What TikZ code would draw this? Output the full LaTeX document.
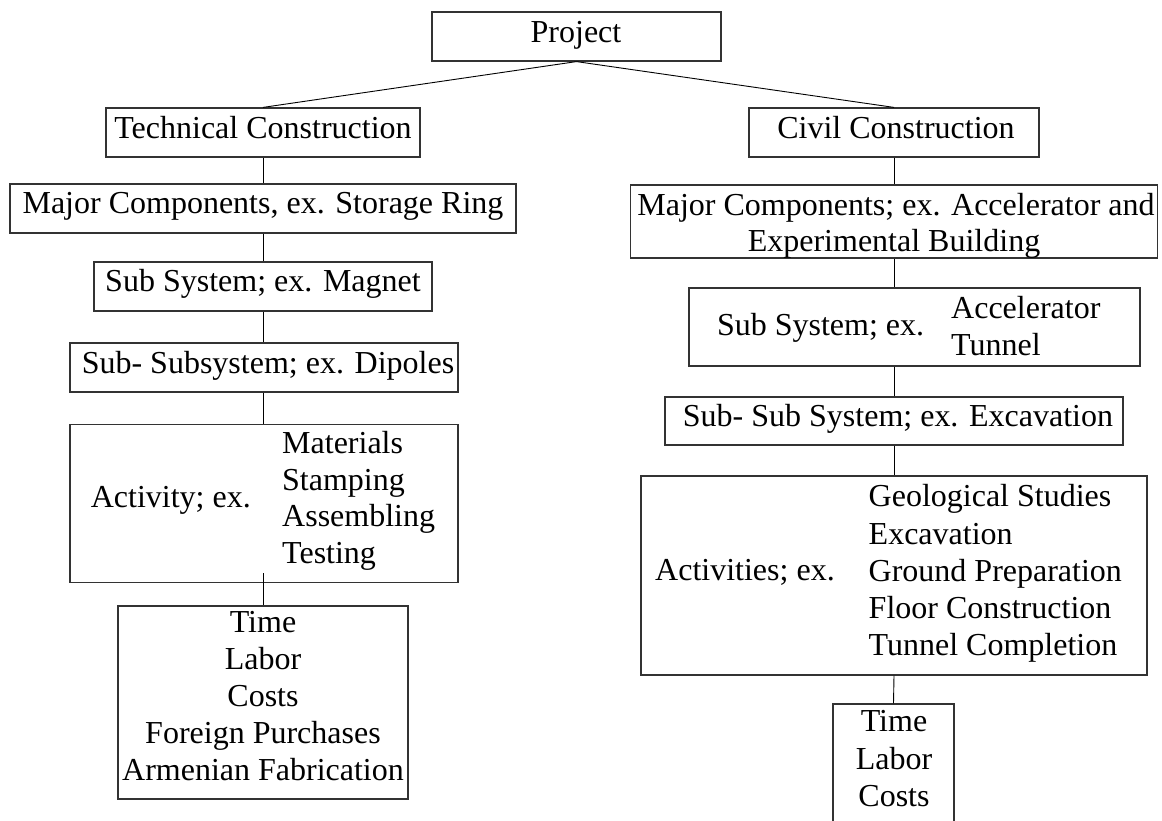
\documentclass[tikz,border=0pt]{standalone}
\usepackage{fontspec}
\setmainfont{Liberation Serif}
\begin{document}
\begin{tikzpicture}[x=1pt,y=-1pt,
  box/.style={draw=black!80,line width=1.2pt,inner sep=0pt,minimum width=#1},
  txt/.style={inner sep=0pt,font=\fontsize{32}{36.7}\selectfont},
  conn/.style={draw=black,line width=0.9pt}]
\useasboundingbox (0,0) rectangle (1162,821);
% boxes
\node[box=289pt,minimum height=49pt] (proj) at (576.5,36.5) {};
\node[box=314pt,minimum height=49pt] (tech) at (263,132.5) {};
\node[box=506pt,minimum height=49pt] (maj1) at (263,208.5) {};
\node[box=338pt,minimum height=49pt] (sub1) at (263,286.5) {};
\node[box=388pt,minimum height=49pt] (ssub1) at (264,367.5) {};
\node[box=388pt,minimum height=158pt] (act1) at (264,503.5) {};
\node[box=290pt,minimum height=193pt] (res1) at (263,702.5) {};
\node[box=290pt,minimum height=49pt] (civil) at (894,132.5) {};
\node[box=527pt,minimum height=73pt] (maj2) at (894,221.5) {};
\node[box=451pt,minimum height=78pt] (sub2) at (914.5,327) {};
\node[box=458pt,minimum height=48pt] (ssub2) at (894,421) {};
\node[box=506pt,minimum height=199pt] (act2) at (894,575.5) {};
\node[box=121pt,minimum height=166pt] (res2) at (893.5,787) {};
% connectors
\draw[conn] (proj.south) -- (tech.north);
\draw[conn] (proj.south) -- (civil.north);
\draw[conn] (tech.south) -- (maj1.north);
\draw[conn] (maj1.south) -- (sub1.north);
\draw[conn] (sub1.south) -- (sub1.south |- ssub1.north);
\draw[conn] (sub1.south |- ssub1.south) -- (sub1.south |- act1.north);
\draw[conn] ([yshift=10pt]sub1.south |- act1.south) -- (res1.north);
\draw[conn] (civil.south) -- (maj2.north);
\draw[conn] (maj2.south) -- (maj2.south |- sub2.north);
\draw[conn] (ssub2.north |- sub2.south) -- (ssub2.north);
\draw[conn] (ssub2.south) -- (act2.north);
\draw[conn] (act2.south) -- (res2.north);
% texts, left
\node[txt,anchor=base] (tproj) at (576,42.7) {Project};
\node[txt,anchor=base] (ttech) at (263,138.3) {Technical Construction};
\node[txt,anchor=base] (tmaj1) at (263,213.3) {Major Components, ex. Storage Ring};
\node[txt,anchor=base] (tsub1) at (263,291.7) {Sub System; ex. Magnet};
\node[txt,anchor=base] (tssub1) at (268,373.3) {Sub- Subsystem; ex. Dipoles};
\node[txt,anchor=base west] (tact1) at (90.6,507.3) {Activity; ex.};
\foreach \t [count=\i from 0] in {Materials,Stamping,Assembling,Testing}
  \node[txt,anchor=base west] (ta\i) at (282,453.3+36.7*\i) {\t};
\foreach \t [count=\i from 0] in {Time,Labor,Costs,Foreign Purchases,Armenian Fabrication}
  \node[txt,anchor=base] (tr\i) at (263,632.3+37*\i) {\t};
% texts, right
\node[txt,anchor=base] (tcivil) at (896,138.3) {Civil Construction};
\node[txt,anchor=base] (tmaj2a) at (896,215) {Major Components; ex. Accelerator and};
\node[txt,anchor=base] (tmaj2b) at (894,251.7) {Experimental Building};
\node[txt,anchor=base west] (tsub2) at (716.8,335) {Sub System; ex.};
\node[txt,anchor=base west] (tsub2a) at (951,318.3) {Accelerator};
\node[txt,anchor=base west] (tsub2b) at (951,355) {Tunnel};
\node[txt,anchor=base] (tssub2) at (898,426.7) {Sub- Sub System; ex. Excavation};
\node[txt,anchor=base west] (tact2) at (655,580) {Activities; ex.};
\foreach \t [count=\i from 0] in {Geological Studies,Excavation,Ground Preparation,Floor Construction,Tunnel Completion}
  \node[txt,anchor=base west] (tb\i) at (868.5,506.7+37.3*\i) {\t};
\foreach \t [count=\i from 0] in {Time,Labor,Costs}
  \node[txt,anchor=base] (ts\i) at (894,731.7+37.5*\i) {\t};
\end{tikzpicture}
\end{document}
